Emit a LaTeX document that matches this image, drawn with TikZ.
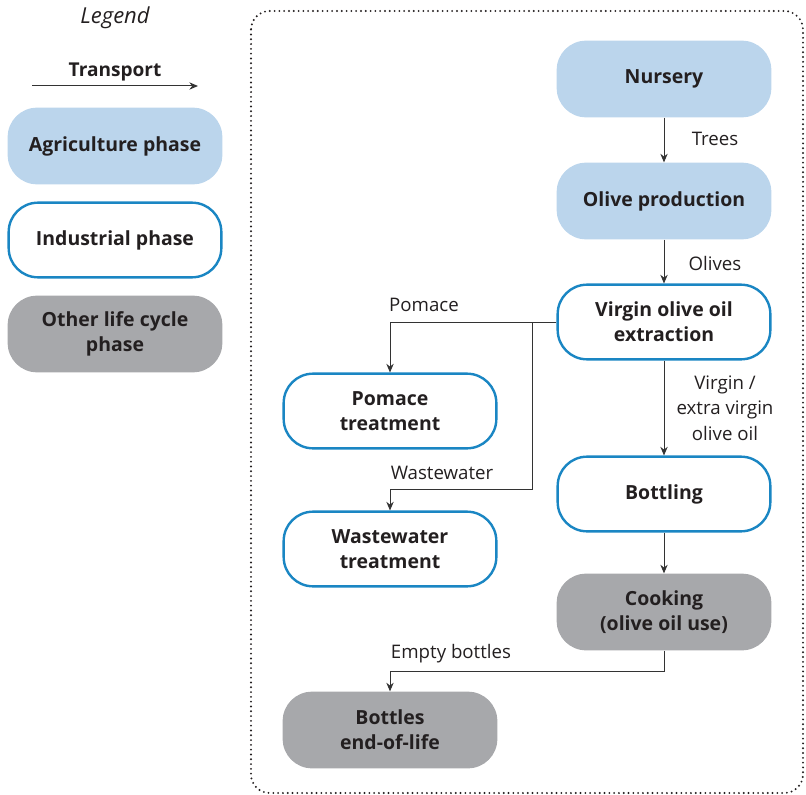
\documentclass[tikz,border=0pt]{standalone}
\usepackage{fontspec}
\setmainfont{Open Sans}
\usepackage{tikz}
\usetikzlibrary{positioning,arrows.meta}
\definecolor{agrfill}{HTML}{BBD5EC}
\definecolor{indline}{HTML}{1A86C3}
\definecolor{othfill}{HTML}{A7A8AB}
\definecolor{txt}{HTML}{231F20}
\definecolor{arline}{HTML}{333333}

\begin{document}
\begin{tikzpicture}[
    x=0.75pt, y=-0.75pt,
    box/.style={rounded corners=22pt, minimum width=161pt, minimum height=57.5pt,
                font=\fontsize{14.6}{18.8}\selectfont\bfseries, text=txt, align=center, inner sep=2pt},
    agr/.style={box, fill=agrfill},
    ind/.style={box, draw=indline, line width=1.8pt, fill=white, minimum width=159.5pt, minimum height=56pt},
    oth/.style={box, fill=othfill},
    lbl/.style={font=\fontsize{14}{19}\selectfont, text=txt, align=center, inner sep=1pt},
    ar/.style={-{Stealth[length=6.5pt,width=5.5pt]}, line width=0.75pt, draw=arline},
]
\useasboundingbox (0,0) rectangle (806,795);

% === Legend ===
\node[lbl, font=\fontsize{16.5}{18}\selectfont\itshape] (leg) at (115,18) {Legend};
\node[lbl, font=\fontsize{14.3}{18}\selectfont\bfseries] (tr) at (115,72) {Transport};
\coordinate (tr-a) at (32,86);
\coordinate (tr-b) at (198,86);
\draw[ar] (tr-a) -- (tr-b);
\node[agr] (lg-agr) at (115,146) {Agriculture phase};
\node[ind] (lg-ind) at (115,240) {Industrial phase};
\node[oth] (lg-oth) at (115,334) {Other life cycle\\phase};

% === System boundary ===
\draw[line width=1.6pt, line cap=round, dash pattern=on 0pt off 3.6pt, rounded corners=14pt, draw=txt]
    (251,11) rectangle (803,793);

% === Process boxes ===
\node[agr] (nur) at (664,79) {Nursery};
\node[agr] (olp) at (664,201) {Olive production};
\node[ind] (vir) at (664,322) {Virgin olive oil\\extraction};
\node[ind] (pom) at (390,411) {Pomace\\treatment};
\node[ind] (ww) at (390,549) {Wastewater\\treatment};
\node[ind] (btl) at (664,494) {Bottling};
\node[oth] (cook) at (664,612) {Cooking\\(olive oil use)};
\node[oth] (eol) at (390,730) {Bottles\\end-of-life};

% --- Arrows ---
\coordinate (br) at (532,322);
\draw[ar] (nur) -- (olp);
\draw[ar] (olp) -- (vir);
\draw[ar] (vir.west) -| (pom.north);
\draw[ar] (br) -- ++(0,167) -| (ww.north);
\draw[ar] (vir) -- (btl);
\draw[ar] (btl) -- (cook);
\draw[ar] (cook.south) -- ++(0,21) -| (eol.north);

% --- Labels ---
\node[lbl] at (715,139) {Trees};
\node[lbl] at (715,263) {Olives};
\node[lbl] at (424,305) {Pomace};
\node[lbl] at (725,408) {Virgin /\\extra virgin\\olive oil};
\node[lbl] at (442,473) {Wastewater};
\node[lbl] at (451,654) {Empty bottles};

\end{tikzpicture}
\end{document}
